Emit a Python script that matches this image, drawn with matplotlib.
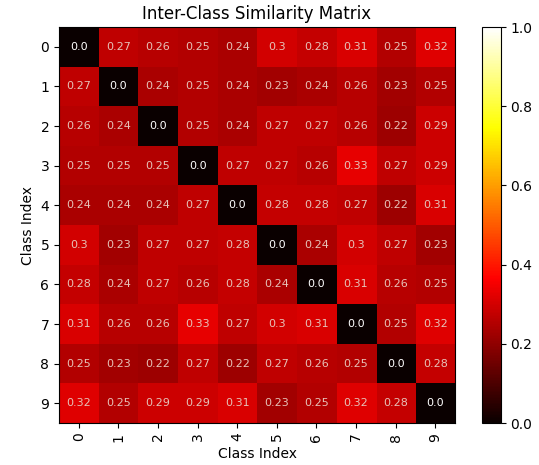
import matplotlib
matplotlib.use("Agg")
import matplotlib.pyplot as plt
import numpy as np

classes = [str(i) for i in range(10)]

# similarity values (row = class, col = class)
row0 = [0.0, 0.27, 0.26, 0.25, 0.24, 0.30, 0.28, 0.31, 0.25, 0.32]
row1 = [0.27, 0.0, 0.24, 0.25, 0.24, 0.23, 0.24, 0.26, 0.23, 0.25]
row2 = [0.26, 0.24, 0.0, 0.25, 0.24, 0.27, 0.27, 0.26, 0.22, 0.29]
row3 = [0.25, 0.25, 0.25, 0.0, 0.27, 0.27, 0.26, 0.33, 0.27, 0.29]
row4 = [0.24, 0.24, 0.24, 0.27, 0.0, 0.28, 0.28, 0.27, 0.22, 0.31]
row5 = [0.30, 0.23, 0.27, 0.27, 0.28, 0.0, 0.24, 0.30, 0.27, 0.23]
row6 = [0.28, 0.24, 0.27, 0.26, 0.28, 0.24, 0.0, 0.31, 0.26, 0.25]
row7 = [0.31, 0.26, 0.26, 0.33, 0.27, 0.30, 0.31, 0.0, 0.25, 0.32]
row8 = [0.25, 0.23, 0.22, 0.27, 0.22, 0.27, 0.26, 0.25, 0.0, 0.28]
row9 = [0.32, 0.25, 0.29, 0.29, 0.31, 0.23, 0.25, 0.32, 0.28, 0.0]

sim = np.array([row0, row1, row2, row3, row4, row5, row6, row7, row8, row9])

fig = plt.figure(figsize=(5.39, 4.65), dpi=100)
ax = fig.add_axes([0.1095, 0.0903, 0.7347, 0.8516])
cax = fig.add_axes([0.894, 0.0903, 0.035, 0.8516])

im = ax.imshow(sim, cmap="hot", vmin=0, vmax=1, aspect="auto")
fig.colorbar(im, cax=cax)

for i in range(len(classes)):
    for j in range(len(classes)):
        v = sim[i, j]
        txt = "0.0" if v == 0 else ("%.2f" % v).rstrip("0")
        if i == j:
            ax.text(j, i, txt, ha="center", va="center", color="white", fontsize=8)
        else:
            ax.text(j, i, txt, ha="center", va="center", color="#e6c2b8", fontsize=8)

ax.set_xticks(range(len(classes)))
ax.set_yticks(range(len(classes)))
ax.set_xticklabels(classes, rotation=90)
ax.set_yticklabels(classes)
ax.set_xlabel("Class Index")
ax.set_ylabel("Class Index")
ax.set_title("Inter-Class Similarity Matrix", fontsize=12)

fig.savefig("out.png", dpi=100)
